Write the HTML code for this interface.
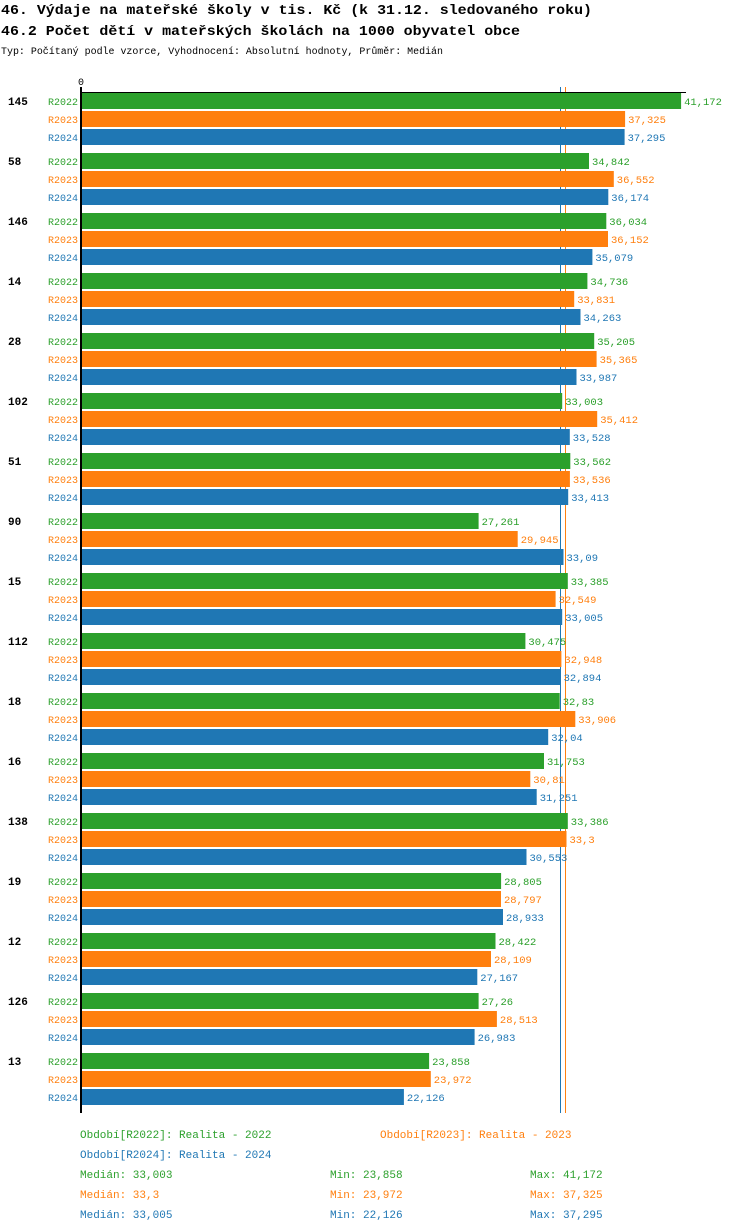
<!DOCTYPE html>
<html><head><meta charset="utf-8"><style>
body{margin:0;background:#fff}
svg{display:block;font-family:"Liberation Mono","DejaVu Sans Mono",monospace}
</style></head><body>
<svg width="750" height="1232" xmlns="http://www.w3.org/2000/svg" id="s">
<text x="1" y="14" font-size="14" font-weight="bold" textLength="591" lengthAdjust="spacingAndGlyphs">46. Výdaje na mateřské školy v tis. Kč (k 31.12. sledovaného roku)</text>
<text x="1" y="35" font-size="14" font-weight="bold" textLength="519" lengthAdjust="spacingAndGlyphs">46.2 Počet dětí v mateřských školách na 1000 obyvatel obce</text>
<text x="1" y="54" font-size="10" textLength="442" lengthAdjust="spacingAndGlyphs">Typ: Počítaný podle vzorce, Vyhodnocení: Absolutní hodnoty, Průměr: Medián</text>
<text x="78" y="85" font-size="10">0</text>
<line x1="560.5" y1="87" x2="560.5" y2="1113" stroke="#1f77b4" stroke-width="1"/>
<line x1="565.5" y1="87" x2="565.5" y2="1113" stroke="#ff7f0e" stroke-width="1"/>
<g id="bars"></g>
<line x1="80" y1="92.5" x2="686" y2="92.5" stroke="#000" stroke-width="1"/>
<line x1="81" y1="87" x2="81" y2="1113" stroke="#000" stroke-width="2"/>
<g font-size="11">
<text x="80" y="1138" fill="#2ca02c">Období[R2022]: Realita - 2022</text>
<text x="380" y="1138" fill="#ff7f0e">Období[R2023]: Realita - 2023</text>
<text x="80" y="1158" fill="#1f77b4">Období[R2024]: Realita - 2024</text>
<text x="80" y="1178" fill="#2ca02c">Medián: 33,003</text>
<text x="330" y="1178" fill="#2ca02c">Min: 23,858</text>
<text x="530" y="1178" fill="#2ca02c">Max: 41,172</text>
<text x="80" y="1198" fill="#ff7f0e">Medián: 33,3</text>
<text x="330" y="1198" fill="#ff7f0e">Min: 23,972</text>
<text x="530" y="1198" fill="#ff7f0e">Max: 37,325</text>
<text x="80" y="1218" fill="#1f77b4">Medián: 33,005</text>
<text x="330" y="1218" fill="#1f77b4">Min: 22,126</text>
<text x="530" y="1218" fill="#1f77b4">Max: 37,295</text>
</g>
</svg>
<script>
var d=[["145","41,172","37,325","37,295"],["58","34,842","36,552","36,174"],["146","36,034","36,152","35,079"],["14","34,736","33,831","34,263"],["28","35,205","35,365","33,987"],["102","33,003","35,412","33,528"],["51","33,562","33,536","33,413"],["90","27,261","29,945","33,09"],["15","33,385","32,549","33,005"],["112","30,475","32,948","32,894"],["18","32,83","33,906","32,04"],["16","31,753","30,81","31,251"],["138","33,386","33,3","30,553"],["19","28,805","28,797","28,933"],["12","28,422","28,109","27,167"],["126","27,26","28,513","26,983"],["13","23,858","23,972","22,126"]];
var c=["#2ca02c","#ff7f0e","#1f77b4"],n=["R2022","R2023","R2024"],h="";
d.forEach(function(g,i){var y0=92+i*60;
h+='<text x="8" y="'+(y0+13)+'" font-size="11" font-weight="bold">'+g[0]+'</text>';
for(var k=0;k<3;k++){var v=parseFloat(g[k+1].replace(",","."));var y=y0+1+k*18;var w=v*14.55;
h+='<rect x="82" y="'+y+'" width="'+w.toFixed(1)+'" height="16" fill="'+c[k]+'"/>';
h+='<text x="78" y="'+(y+12)+'" font-size="10" text-anchor="end" fill="'+c[k]+'">'+n[k]+'</text>';
h+='<text x="'+(82+w+3).toFixed(1)+'" y="'+(y+12)+'" font-size="10.5" fill="'+c[k]+'">'+g[k+1]+'</text>';}
});
document.getElementById("bars").innerHTML=h;
</script>
</body></html>
